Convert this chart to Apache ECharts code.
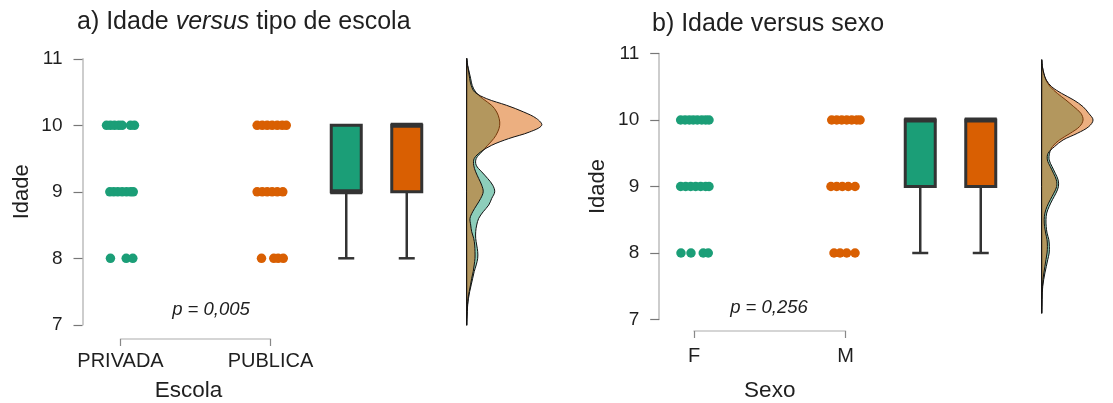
<!DOCTYPE html>
<html>
<head>
<meta charset="utf-8">
<script src="https://cdn.jsdelivr.net/npm/echarts@6/dist/echarts.min.js"></script>
<style>
  html, body { margin: 0; padding: 0; background: #fff; }
  #chart { width: 1113px; height: 403px; }
</style>
</head>
<body>
<div id="chart"></div>
<script>
'use strict';

// ---- data ----
const escolas = ['PRIVADA', 'PUBLICA'];
const sexos = ['F', 'M'];

// strip plot points: [idade, horizontal jitter in category units]
const privadaPts = [
  [10, -0.093], [10, -0.067], [10, -0.04], [10, -0.011], [10, 0.011], [10, 0.067], [10, 0.093],
  [9, -0.071], [9, -0.045], [9, -0.018], [9, 0.011], [9, 0.04], [9, 0.067], [9, 0.085],
  [8, -0.067], [8, 0.038], [8, 0.082]
];
const publicaPts = [
  [10, -0.089], [10, -0.055], [10, -0.022], [10, 0.011], [10, 0.045], [10, 0.078], [10, 0.105],
  [9, -0.089], [9, -0.055], [9, -0.022], [9, 0.011], [9, 0.045], [9, 0.082],
  [8, -0.06], [8, 0.022], [8, 0.051], [8, 0.085]
];
const fPts = [
  [10, -0.088], [10, -0.059], [10, -0.031], [10, -0.005], [10, 0.022], [10, 0.051], [10, 0.077], [10, 0.099],
  [9, -0.088], [9, -0.055], [9, -0.022], [9, 0.011], [9, 0.044], [9, 0.077], [9, 0.099],
  [8, -0.086], [8, -0.02], [8, 0.061], [8, 0.094]
];
const mPts = [
  [10, -0.091], [10, -0.058], [10, -0.025], [10, 0.008], [10, 0.041], [10, 0.074], [10, 0.096],
  [9, -0.096], [9, -0.058], [9, -0.021], [9, 0.018], [9, 0.063],
  [8, -0.076], [8, -0.036], [8, 0.008], [8, 0.063]
];

// boxplot stats: [min, q1, median, q3, max]
const boxEscola = [[8, 9, 9, 10, 10], [8, 9, 10, 10, 10]];
const boxSexo = [[8, 9, 10, 10, 10], [8, 9, 10, 10, 10]];

// half-violin densities
const densAgesA = [7.0, 7.1, 7.2, 7.3, 7.4, 7.5, 7.6, 7.7, 7.8, 7.9,
  8.0, 8.1, 8.2, 8.3, 8.4, 8.5, 8.6, 8.7, 8.8, 8.9,
  9.0, 9.1, 9.2, 9.3, 9.4, 9.5, 9.6, 9.7, 9.8, 9.9,
  10.0, 10.1, 10.2, 10.3, 10.4, 10.5, 10.6, 10.7, 10.8, 10.9, 11.0];
const densPrivada = [0, 0.004, 0.01, 0.02, 0.036, 0.06, 0.09, 0.12, 0.15, 0.19,
  0.22, 0.22, 0.2, 0.18, 0.18, 0.2, 0.24, 0.33, 0.44, 0.5,
  0.56, 0.52, 0.42, 0.3, 0.19, 0.19, 0.3, 0.42, 0.54, 0.62,
  0.66, 0.65, 0.6, 0.5, 0.32, 0.18, 0.11, 0.08, 0.05, 0.02, 0];
const densPublica = [0, 0.004, 0.01, 0.016, 0.026, 0.05, 0.076, 0.1, 0.13, 0.15,
  0.166, 0.166, 0.16, 0.14, 0.1, 0.08, 0.066, 0.12, 0.2, 0.28,
  0.33, 0.3, 0.24, 0.18, 0.14, 0.15, 0.28, 0.5, 0.84, 1.26,
  1.5, 1.4, 1.14, 0.8, 0.4, 0.16, 0.09, 0.06, 0.04, 0.016, 0];

const densAgesB = [7.1, 7.2, 7.3, 7.4, 7.5, 7.6, 7.7, 7.8, 7.9,
  8.0, 8.1, 8.2, 8.3, 8.4, 8.5, 8.6, 8.7, 8.8, 8.9,
  9.0, 9.1, 9.2, 9.3, 9.4, 9.5, 9.6, 9.7, 9.8, 9.9,
  10.0, 10.1, 10.2, 10.3, 10.4, 10.5, 10.6, 10.7, 10.8, 10.9];
const densF = [0, 0.006, 0.01, 0.014, 0.03, 0.056, 0.09, 0.13, 0.17,
  0.21, 0.214, 0.2, 0.15, 0.126, 0.12, 0.14, 0.21, 0.3, 0.4,
  0.47, 0.46, 0.38, 0.29, 0.21, 0.22, 0.3, 0.5, 0.8, 1.06,
  1.16, 1.1, 0.9, 0.68, 0.44, 0.24, 0.12, 0.06, 0.02, 0];
const densM = [0, 0.004, 0.006, 0.01, 0.02, 0.036, 0.06, 0.09, 0.12,
  0.15, 0.16, 0.15, 0.11, 0.08, 0.07, 0.09, 0.15, 0.24, 0.34,
  0.42, 0.41, 0.33, 0.24, 0.16, 0.18, 0.36, 0.6, 1.0, 1.32,
  1.44, 1.32, 1.16, 0.9, 0.56, 0.28, 0.13, 0.06, 0.02, 0];

// ---- styling ----
const FONT = '"Liberation Sans", Arial, Helvetica, sans-serif';
const INK = '#1f1f1f';
const GREEN = '#1b9e77';
const ORANGE = '#d95f02';
const FILLS = ['rgba(27,158,119,0.5)', 'rgba(217,95,2,0.5)'];
const BOX_EDGE = '#333333';

const grid = [];
const xAxis = [];
const yAxis = [];
const series = [];

function ageAxis(gi, shown, L) {
  const ax = { gridIndex: gi, type: 'value', min: 7, max: 11, interval: 1, show: shown, splitLine: { show: false } };
  if (shown) {
    Object.assign(ax, {
      axisLine: { show: true, onZero: false, lineStyle: { color: '#bdbdbd', width: 1.5 } },
      axisTick: { show: true, length: 9, lineStyle: { color: '#777', width: 1.2 } },
      axisLabel: { color: INK, fontSize: 19, fontFamily: FONT, margin: 20 },
      name: 'Idade',
      nameLocation: 'middle',
      nameGap: L.yNameGap,
      nameTextStyle: { color: INK, fontSize: 22, fontFamily: FONT }
    });
  }
  return ax;
}

function buildPanel(k, L, cats, xName, pts, box, ages, dens) {
  const g = k * 4;
  const xMin = -(L.cat0 - L.axisX) / L.catGap;

  // strip plot
  grid.push({ left: L.axisX, top: L.top, width: 225, height: L.h });
  xAxis.push({ gridIndex: g, type: 'value', min: xMin, max: xMin + 225 / L.catGap, show: false });
  yAxis.push(ageAxis(g, true, L));
  pts.forEach((list, i) => {
    series.push({
      type: 'scatter', xAxisIndex: g, yAxisIndex: g, symbolSize: 9.5, silent: true,
      itemStyle: { color: i ? ORANGE : GREEN, opacity: 1 },
      data: list.map(p => [i + p[1], p[0]])
    });
  });

  // category bracket axis
  grid.push({ left: L.cat0, top: L.bracketY - 40, width: L.catGap, height: 40 });
  xAxis.push({
    gridIndex: g + 1, type: 'category', data: cats, boundaryGap: false,
    axisLine: { show: true, lineStyle: { color: '#c8c8c8', width: 1.5 } },
    axisTick: { show: true, length: 7, lineStyle: { color: '#888', width: 1.2 } },
    axisLabel: { color: INK, fontSize: 20, fontFamily: FONT, margin: L.labelMargin },
    name: xName, nameLocation: 'middle', nameGap: L.xNameGap,
    nameTextStyle: { color: INK, fontSize: 22.5, fontFamily: FONT, padding: L.xNamePad }
  });
  yAxis.push({ gridIndex: g + 1, type: 'value', show: false });

  // boxplots
  grid.push({ left: L.boxLeft, top: L.top, width: 121, height: L.h });
  xAxis.push({ gridIndex: g + 2, type: 'category', data: cats, show: false });
  yAxis.push(ageAxis(g + 2, false, L));
  series.push({
    type: 'custom', xAxisIndex: g + 2, yAxisIndex: g + 2, silent: true,
    data: box.map((b, i) => [i].concat(b)),
    encode: { x: 0, y: [1, 2, 3, 4, 5] },
    renderItem: (params, api) => {
      const i = api.value(0);
      const pMin = api.coord([i, api.value(1)]);
      const pQ1 = api.coord([i, api.value(2)]);
      const pMed = api.coord([i, api.value(3)]);
      const pQ3 = api.coord([i, api.value(4)]);
      const x = pMin[0];
      const half = 15;
      return {
        type: 'group',
        children: [
          { type: 'line', shape: { x1: x, y1: pMin[1], x2: x, y2: pQ1[1] }, style: { stroke: BOX_EDGE, lineWidth: 2.5 } },
          { type: 'line', shape: { x1: x - 8, y1: pMin[1], x2: x + 8, y2: pMin[1] }, style: { stroke: BOX_EDGE, lineWidth: 2.5 } },
          { type: 'rect', shape: { x: x - half, y: pQ3[1], width: 2 * half, height: pQ1[1] - pQ3[1] },
            style: { fill: i ? ORANGE : GREEN, stroke: BOX_EDGE, lineWidth: 3 } },
          { type: 'line', shape: { x1: x - half - 1, y1: pMed[1], x2: x + half + 1, y2: pMed[1] }, style: { stroke: BOX_EDGE, lineWidth: 5 } }
        ]
      };
    }
  });

  // half violins
  grid.push({ left: L.densLeft, top: L.top, width: 100, height: L.h });
  xAxis.push({ gridIndex: g + 3, type: 'value', min: 0, max: 2, show: false });
  yAxis.push(ageAxis(g + 3, false, L));
  dens.forEach((vals, i) => {
    series.push({
      type: 'custom', xAxisIndex: g + 3, yAxisIndex: g + 3, silent: true,
      data: [[0, ages[0]]],
      renderItem: (params, api) => ({
        type: 'polygon',
        shape: { points: ages.map((a, j) => api.coord([vals[j], a])), smooth: 0.35 },
        style: { fill: FILLS[i], stroke: '#111', lineWidth: 1 }
      })
    });
  });
}

buildPanel(0, {
  axisX: 82.5, cat0: 120.5, catGap: 150, top: 58.8, h: 266,
  boxLeft: 316, densLeft: 466.7, bracketY: 340,
  labelMargin: 12, xNameGap: 40, yNameGap: 50, xNamePad: [0, 14, 0, 0]
}, escolas, 'Escola', [privadaPts, publicaPts], boxEscola, densAgesA, [densPrivada, densPublica]);

buildPanel(1, {
  axisX: 659.2, cat0: 694, catGap: 151.5, top: 53.5, h: 266,
  boxLeft: 890, densLeft: 1041.7, bracketY: 333.3,
  labelMargin: 15, xNameGap: 48, yNameGap: 50, xNamePad: [0, 0, 0, 0]
}, sexos, 'Sexo', [fPts, mPts], boxSexo, densAgesB, [densF, densM]);

const chart = echarts.init(document.getElementById('chart'), null, { renderer: 'canvas' });
chart.setOption({
  animation: false,
  backgroundColor: '#fff',
  title: [
    {
      left: 77, top: 10, padding: 0,
      text: '{n|a) Idade }{i|versus}{n| tipo de escola}',
      textStyle: {
        rich: {
          n: { fontSize: 25, fontFamily: FONT, color: INK, fontWeight: 'normal' },
          i: { fontSize: 25, fontFamily: FONT, color: INK, fontWeight: 'normal', fontStyle: 'italic' }
        }
      }
    },
    {
      left: 652, top: 12, padding: 0,
      text: 'b) Idade versus sexo',
      textStyle: { fontSize: 25, fontFamily: FONT, color: INK, fontWeight: 'normal' }
    }
  ],
  graphic: [
    { type: 'text', x: 211, y: 310, silent: true,
      style: { text: 'p = 0,005', fontSize: 18.5, fontStyle: 'italic', fontFamily: FONT, fill: INK, align: 'center', verticalAlign: 'middle' } },
    { type: 'text', x: 769, y: 308, silent: true,
      style: { text: 'p = 0,256', fontSize: 18.5, fontStyle: 'italic', fontFamily: FONT, fill: INK, align: 'center', verticalAlign: 'middle' } }
  ],
  grid: grid,
  xAxis: xAxis,
  yAxis: yAxis,
  series: series
});
</script>
</body>
</html>
